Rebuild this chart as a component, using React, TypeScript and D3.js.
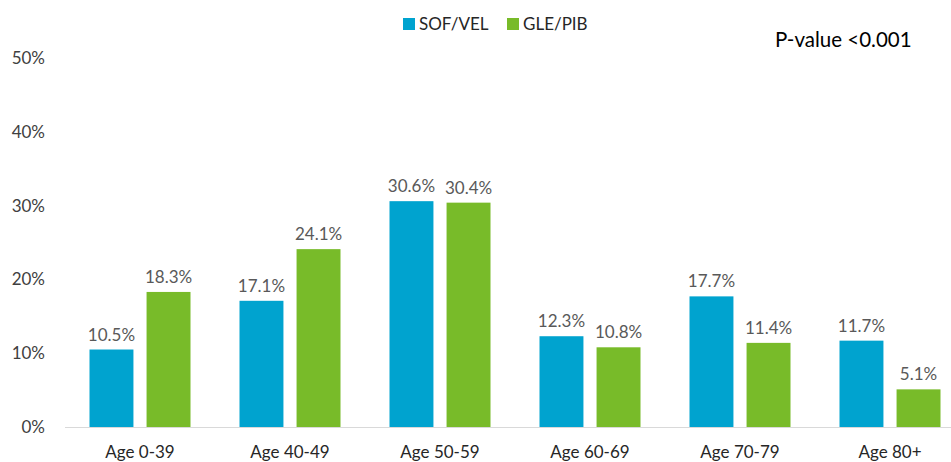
import { useEffect, useRef } from "react"
import * as d3 from "d3"

const categories = ["Age 0-39", "Age 40-49", "Age 50-59", "Age 60-69", "Age 70-79", "Age 80+"]
const seriesNames = ["SOF/VEL", "GLE/PIB"]
const sofVel = [10.5, 17.1, 30.6, 12.3, 17.7, 11.7]
const glePib = [18.3, 24.1, 30.4, 10.8, 11.4, 5.1]
const yTicks = [0, 10, 20, 30, 40, 50]

const COLORS = ["#00a3cf", "#78bb29"]
const FONT = "Lato, 'Open Sans', sans-serif"

export default function App() {
  const svgRef = useRef<SVGSVGElement>(null)

  useEffect(() => {
    if (!svgRef.current) return
    const svg = d3.select(svgRef.current)
    svg.selectAll("*").remove()

    const width = 951
    const height = 462

    const x = d3.scaleBand<string>().domain(categories).range([65, 965]).paddingInner(0).paddingOuter(0)
    const inner = d3.scaleBand<number>().domain([0, 1]).range([0, 101]).paddingInner(0.23)
    const groupOffset = (x.bandwidth() - 101) / 2
    const y = d3.scaleLinear().domain([0, 50]).range([427, 58])

    // axe Y (labels only)
    svg.append("g")
      .selectAll("text")
      .data(yTicks)
      .enter()
      .append("text")
      .attr("x", 45)
      .attr("y", (d) => y(d))
      .attr("dy", "0.35em")
      .attr("text-anchor", "end")
      .attr("font-family", FONT)
      .attr("font-size", 17)
      .attr("fill", "#404040")
      .text((d) => `${d}%`)

    // baseline
    svg.append("line")
      .attr("x1", 65)
      .attr("x2", width)
      .attr("y1", y(0) + 0.5)
      .attr("y2", y(0) + 0.5)
      .attr("stroke", "#d9d9d9")
      .attr("stroke-width", 1)

    const series = [sofVel, glePib]
    series.forEach((values, si) => {
      const g = svg.append("g")
      g.selectAll("rect")
        .data(values)
        .enter()
        .append("rect")
        .attr("x", (_d, i) => (x(categories[i]) ?? 0) + groupOffset + (inner(si) ?? 0))
        .attr("y", (d) => y(d))
        .attr("width", inner.bandwidth())
        .attr("height", (d) => y(0) - y(d))
        .attr("fill", COLORS[si])

      g.selectAll("text")
        .data(values)
        .enter()
        .append("text")
        .attr("x", (_d, i) => (x(categories[i]) ?? 0) + groupOffset + (inner(si) ?? 0) + inner.bandwidth() / 2)
        .attr("y", (d) => y(d) - 9)
        .attr("text-anchor", "middle")
        .attr("font-family", FONT)
        .attr("font-size", 17)
        .attr("fill", "#595959")
        .text((d) => `${d.toFixed(1)}%`)
    })

    // axe X labels
    svg.append("g")
      .selectAll("text")
      .data(categories)
      .enter()
      .append("text")
      .attr("x", (d) => (x(d) ?? 0) + x.bandwidth() / 2)
      .attr("y", 452)
      .attr("dy", "0.35em")
      .attr("text-anchor", "middle")
      .attr("font-family", FONT)
      .attr("font-size", 17)
      .attr("fill", "#262626")
      .text((d) => d)

    // légende
    const legendX = [403, 507]
    seriesNames.forEach((name, i) => {
      svg.append("rect")
        .attr("x", legendX[i])
        .attr("y", 18)
        .attr("width", 12)
        .attr("height", 12)
        .attr("fill", COLORS[i])
      svg.append("text")
        .attr("x", legendX[i] + 16)
        .attr("y", 24)
        .attr("dy", "0.35em")
        .attr("font-family", FONT)
        .attr("font-size", 17)
        .attr("fill", "#262626")
        .text(name)
    })

    svg.append("text")
      .attr("x", 775)
      .attr("y", 40)
      .attr("dy", "0.35em")
      .attr("font-family", FONT)
      .attr("font-size", 20.5)
      .attr("fill", "#000000")
      .text("P-value <0.001")

    svg.attr("width", width).attr("height", height)
  }, [])

  return (
    <svg
      ref={svgRef}
      width={951}
      height={462}
      style={{ position: "absolute", left: 0, top: 0, background: "#ffffff" }}
    />
  )
}
